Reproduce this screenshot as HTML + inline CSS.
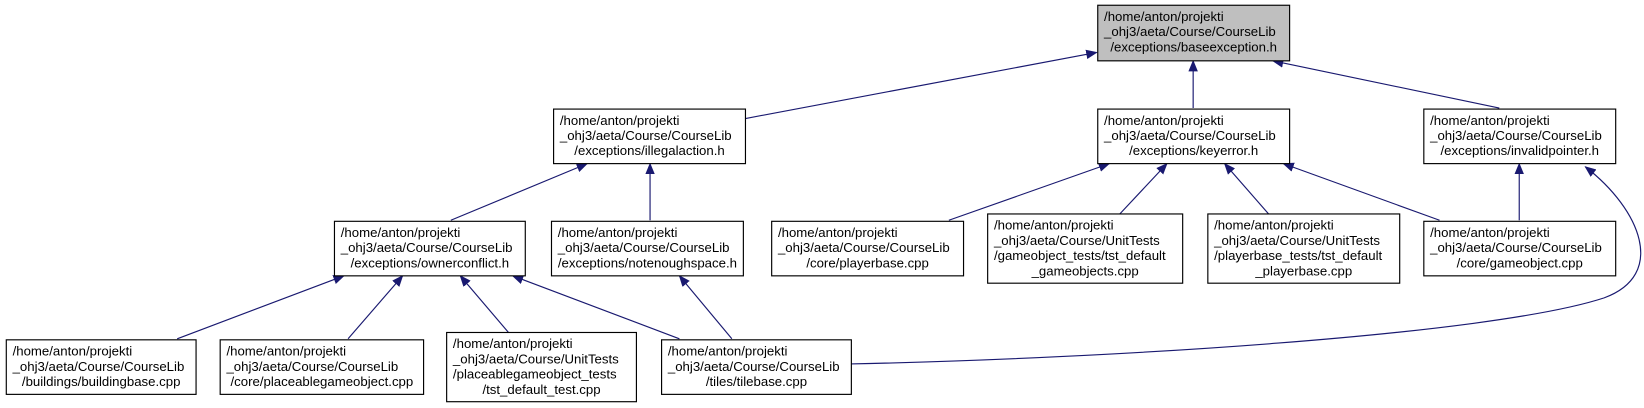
<!DOCTYPE html>
<html><head><meta charset="utf-8"><style>
html,body{margin:0;padding:0;background:#fff;}
svg{display:block;}
text{font-family:"Liberation Sans",Arial,sans-serif;font-size:12.6px;fill:#000;}
.b{fill:#fff;stroke:#000;stroke-width:1.1;}
.g{fill:#bfbfbf;stroke:#000;stroke-width:1.1;}
.e{fill:none;stroke:#191970;stroke-width:1.1;marker-end:url(#a);}
</style></head><body>
<svg width="1644" height="408" viewBox="0 0 1568 389" preserveAspectRatio="none" xmlns="http://www.w3.org/2000/svg">
<defs><marker id="a" markerWidth="11" markerHeight="9" refX="10" refY="4.5" orient="auto" markerUnits="userSpaceOnUse"><path d="M0,0 L11,4.5 L0,9 z" fill="#191970"/></marker></defs>

<!-- edges -->
<path class="e" d="M711,113 L1046,50"/>
<path class="e" d="M1138,103 L1138,58"/>
<path class="e" d="M1430,103 L1214,58"/>
<path class="e" d="M430,210 L560,156"/>
<path class="e" d="M620,210 L620,156"/>
<path class="e" d="M905,210 L1058,156"/>
<path class="e" d="M1068,204 L1113,156"/>
<path class="e" d="M1210,204 L1168,156"/>
<path class="e" d="M1373,210 L1224,156"/>
<path class="e" d="M1449,210 L1449,156"/>
<path class="e" d="M811,347 C1050,342 1420,320 1530,284 C1590,262 1565,200 1512,159"/>
<path class="e" d="M169,323 L328,263"/>
<path class="e" d="M332,323 L384,263"/>
<path class="e" d="M485,317 L439,263"/>
<path class="e" d="M648,323 L489,263"/>
<path class="e" d="M698,323 L648,263"/>

<!-- top -->
<rect class="g" x="1047" y="5" width="183" height="53"/>
<text x="1053" y="20">/home/anton/projekti</text>
<text x="1053" y="34.5">_ohj3/aeta/Course/CourseLib</text>
<text x="1138.5" y="49" text-anchor="middle">/exceptions/baseexception.h</text>

<!-- row 2 -->
<rect class="b" x="528" y="104" width="183" height="52"/>
<text x="534" y="119">/home/anton/projekti</text>
<text x="534" y="133.5">_ohj3/aeta/Course/CourseLib</text>
<text x="619.5" y="148" text-anchor="middle">/exceptions/illegalaction.h</text>

<rect class="b" x="1047" y="104" width="183" height="52"/>
<text x="1053" y="119">/home/anton/projekti</text>
<text x="1053" y="133.5">_ohj3/aeta/Course/CourseLib</text>
<text x="1138.5" y="148" text-anchor="middle">/exceptions/keyerror.h</text>

<rect class="b" x="1358" y="104" width="183" height="52"/>
<text x="1364" y="119">/home/anton/projekti</text>
<text x="1364" y="133.5">_ohj3/aeta/Course/CourseLib</text>
<text x="1449.5" y="148" text-anchor="middle">/exceptions/invalidpointer.h</text>

<!-- row 3 -->
<rect class="b" x="319" y="211" width="182" height="52"/>
<text x="325" y="226">/home/anton/projekti</text>
<text x="325" y="240.5">_ohj3/aeta/Course/CourseLib</text>
<text x="410" y="255" text-anchor="middle">/exceptions/ownerconflict.h</text>

<rect class="b" x="526" y="211" width="183" height="52"/>
<text x="532" y="226">/home/anton/projekti</text>
<text x="532" y="240.5">_ohj3/aeta/Course/CourseLib</text>
<text x="617.5" y="255" text-anchor="middle">/exceptions/notenoughspace.h</text>

<rect class="b" x="736" y="211" width="183" height="52"/>
<text x="742" y="226">/home/anton/projekti</text>
<text x="742" y="240.5">_ohj3/aeta/Course/CourseLib</text>
<text x="827.5" y="255" text-anchor="middle">/core/playerbase.cpp</text>

<rect class="b" x="942" y="204" width="186" height="66"/>
<text x="948" y="219">/home/anton/projekti</text>
<text x="948" y="233.5">_ohj3/aeta/Course/UnitTests</text>
<text x="948" y="248">/gameobject_tests/tst_default</text>
<text x="1035" y="262.5" text-anchor="middle">_gameobjects.cpp</text>

<rect class="b" x="1152" y="204" width="183" height="66"/>
<text x="1158" y="219">/home/anton/projekti</text>
<text x="1158" y="233.5">_ohj3/aeta/Course/UnitTests</text>
<text x="1158" y="248">/playerbase_tests/tst_default</text>
<text x="1243.5" y="262.5" text-anchor="middle">_playerbase.cpp</text>

<rect class="b" x="1358" y="211" width="183" height="52"/>
<text x="1364" y="226">/home/anton/projekti</text>
<text x="1364" y="240.5">_ohj3/aeta/Course/CourseLib</text>
<text x="1449.5" y="255" text-anchor="middle">/core/gameobject.cpp</text>

<!-- row 4 -->
<rect class="b" x="6" y="324" width="181" height="52"/>
<text x="12" y="339">/home/anton/projekti</text>
<text x="12" y="353.5">_ohj3/aeta/Course/CourseLib</text>
<text x="96.5" y="368" text-anchor="middle">/buildings/buildingbase.cpp</text>

<rect class="b" x="210" y="324" width="194" height="52"/>
<text x="216" y="339">/home/anton/projekti</text>
<text x="216" y="353.5">_ohj3/aeta/Course/CourseLib</text>
<text x="307" y="368" text-anchor="middle">/core/placeablegameobject.cpp</text>

<rect class="b" x="426" y="317" width="181" height="66"/>
<text x="432" y="332">/home/anton/projekti</text>
<text x="432" y="346.5">_ohj3/aeta/Course/UnitTests</text>
<text x="432" y="361">/placeablegameobject_tests</text>
<text x="516.5" y="375.5" text-anchor="middle">/tst_default_test.cpp</text>

<rect class="b" x="631" y="324" width="181" height="52"/>
<text x="637" y="339">/home/anton/projekti</text>
<text x="637" y="353.5">_ohj3/aeta/Course/CourseLib</text>
<text x="721.5" y="368" text-anchor="middle">/tiles/tilebase.cpp</text>
</svg>
</body></html>
